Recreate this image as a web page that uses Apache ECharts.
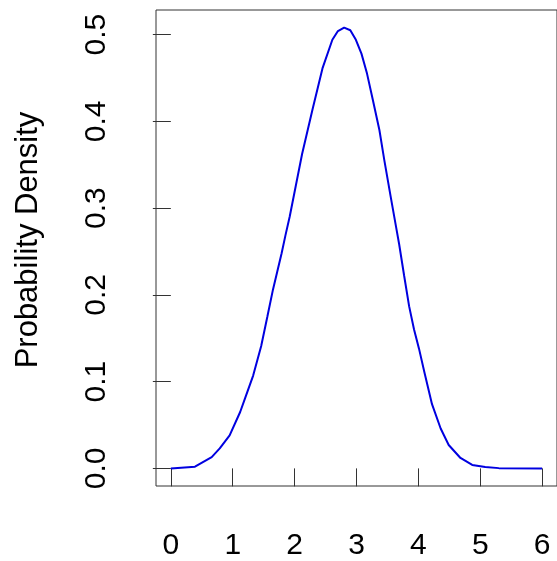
<!DOCTYPE html>
<html>
<head>
<meta charset="utf-8">
<script src="https://cdn.jsdelivr.net/npm/echarts@6/dist/echarts.min.js"></script>
<style>
html,body{margin:0;padding:0;background:#fff;}
#chart{width:557px;height:561px;}
</style>
</head>
<body>
<div id="chart"></div>
<script>
const xValues = [0, 0.39, 0.66, 0.79, 0.95, 1.12, 1.2, 1.33, 1.46, 1.56, 1.65, 1.72, 1.79, 1.85, 1.92, 2.02, 2.12, 2.29, 2.45, 2.61, 2.7, 2.8, 2.9, 2.99, 3.08, 3.17, 3.26, 3.37, 3.45, 3.55, 3.64, 3.69, 3.77, 3.85, 3.93, 4.01, 4.1, 4.22, 4.36, 4.49, 4.68, 4.87, 5.08, 5.3, 6];
const yValues = [0, 0.002, 0.013, 0.023, 0.038, 0.065, 0.081, 0.107, 0.141, 0.175, 0.206, 0.227, 0.248, 0.268, 0.29, 0.326, 0.362, 0.414, 0.461, 0.494, 0.504, 0.508, 0.505, 0.494, 0.478, 0.455, 0.426, 0.39, 0.355, 0.314, 0.278, 0.258, 0.222, 0.187, 0.16, 0.138, 0.11, 0.074, 0.046, 0.027, 0.012, 0.004, 0.0015, 0.0003, 0];
const xTicks = [0, 1, 2, 3, 4, 5, 6];
const yTicks = [0, 0.1, 0.2, 0.3, 0.4, 0.5];
const yAxisTitle = 'Probability Density';

const FONT = "'Liberation Sans', Arial, sans-serif";
const chart = echarts.init(document.getElementById('chart'), null, {renderer: 'canvas'});
chart.setOption({
  animation: false,
  backgroundColor: '#ffffff',
  grid: {
    left: 156, top: 10, width: 403, height: 478,
    show: true, borderColor: '#333', borderWidth: 1, backgroundColor: 'transparent'
  },
  xAxis: {
    type: 'value', min: -0.24, max: 6.24,
    splitLine: {show: false},
    axisLine: {show: false},
    axisTick: {show: true, inside: false, length: 18, lineStyle: {color: '#333', width: 1}, customValues: xTicks},
    axisLabel: {show: true, customValues: xTicks, margin: 45, fontSize: 30, color: '#000', fontFamily: FONT,
      formatter: v => String(v)}
  },
  yAxis: {
    type: 'value', min: -0.0203, max: 0.5283,
    name: yAxisTitle, nameLocation: 'middle', nameGap: 112,
    nameTextStyle: {fontSize: 31, color: '#000', fontFamily: FONT, padding: [0, 0, 0, 16]},
    splitLine: {show: false},
    axisLine: {show: false},
    axisTick: {show: true, inside: false, length: 18, lineStyle: {color: '#333', width: 1}, customValues: yTicks},
    axisLabel: {show: true, customValues: yTicks, rotate: 90, margin: 44, fontSize: 30, color: '#000', fontFamily: FONT,
      formatter: v => Number(v).toFixed(1)}
  },
  series: [{
    type: 'line',
    data: xValues.map((x, i) => [x, yValues[i]]),
    showSymbol: false,
    smooth: false,
    lineStyle: {color: '#0000e0', width: 2},
    clip: true
  }]
});
</script>
</body>
</html>
